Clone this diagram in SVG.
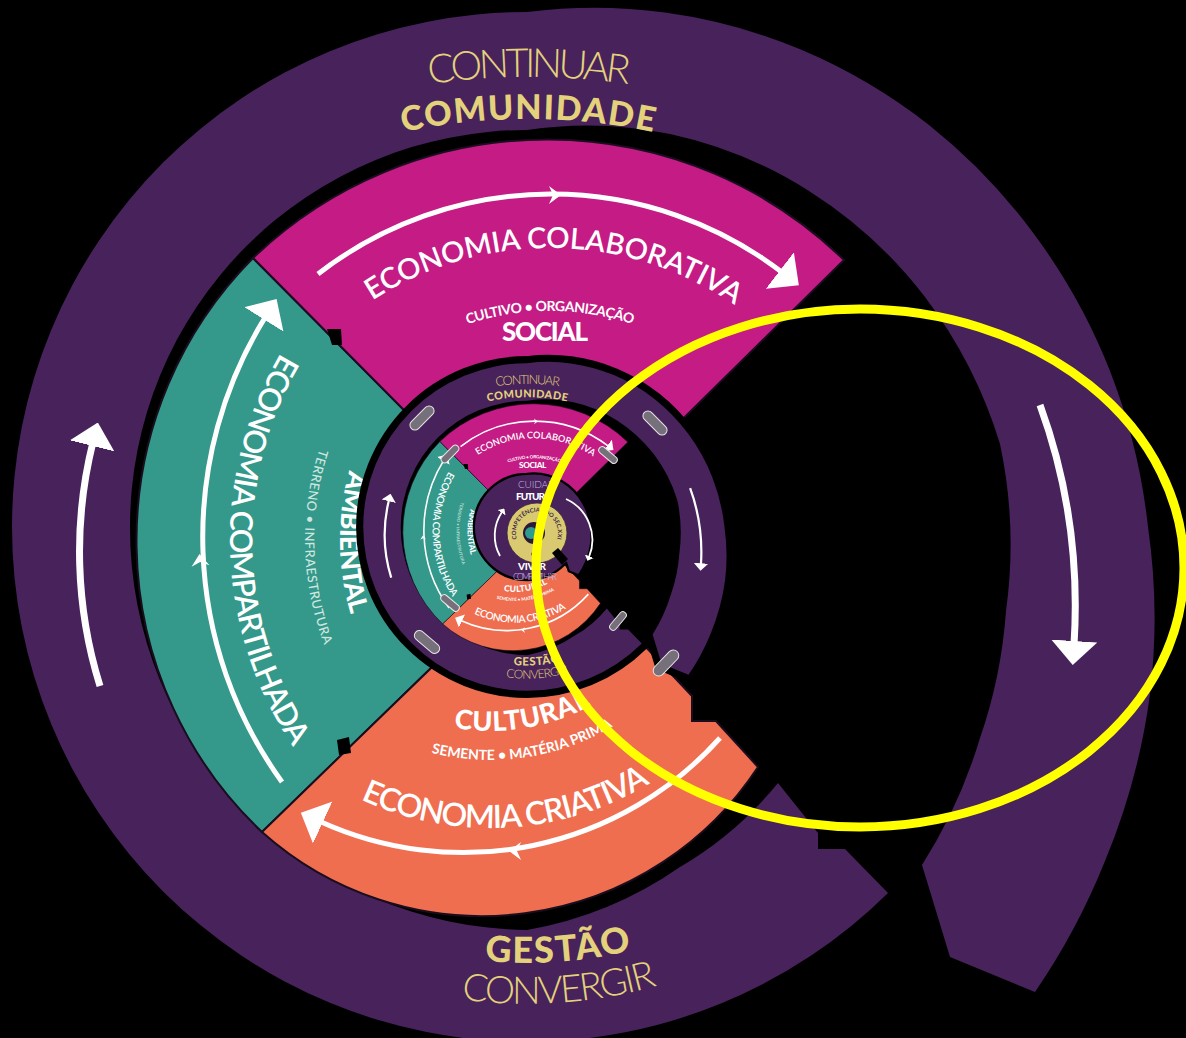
<svg xmlns="http://www.w3.org/2000/svg" width="1186" height="1038" viewBox="0 0 1186 1038">
<style>
 .ring{fill:#47225b}
 .gold{fill:#e3d17b;font-family:Lato,'Open Sans','DejaVu Sans',sans-serif}
 .w{fill:#fff;font-family:Lato,'Open Sans','DejaVu Sans',sans-serif}
 .lt{fill:#cfe6df;font-family:Lato,'Open Sans','DejaVu Sans',sans-serif}
 .lav{fill:#c9b9e4;font-family:Lato,'Open Sans','DejaVu Sans',sans-serif}
 .arr{fill:none;stroke:#fff;marker-end:url(#ah)}
 .pill{fill:#75707a;stroke:#e6e6e6;stroke-width:1}
</style>
<defs>
 <marker id="ah" viewBox="0 0 24 46" refX="4" refY="23" markerWidth="24" markerHeight="46" markerUnits="userSpaceOnUse" orient="auto"><path d="M0,0 L24,23 L0,46 Z" fill="#fff"/></marker>
 <marker id="ahs" viewBox="0 0 24 46" refX="4" refY="23" markerWidth="5" markerHeight="9.6" markerUnits="userSpaceOnUse" orient="auto"><path d="M0,0 L24,23 L0,46 Z" fill="#fff"/></marker>
 <path id="sil" d="M 527,12 A 524 524 0 0 1 665,12.5 A 541 541 0 0 1 802,50 A 559 559 0 0 1 929,125 A 577 577 0 0 1 1034,234 A 595 595 0 0 1 1110,371 A 612 612 0 0 1 1148,527 A 633 633 0 0 1 1150,694 A 656 656 0 0 1 1105,861 A 678 678 0 0 1 1035,992 L 950,957 L 922,865 L 888,893 A 515 515 0 0 1 527,1042 A 515 515 0 0 1 12,527 A 515 515 0 0 1 527,12 Z"/>
 <path id="p-cont" d="M -171,777 A 700 700 0 0 1 1229,777"/>
 <path id="p-comu" d="M -72,719 A 600 600 0 0 1 1128,719"/>
 <path id="p-gest" d="M 91,527 A 436 436 0 0 0 963,527"/>
 <path id="p-conv" d="M 50,527 A 477 477 0 0 0 1004,527"/>
 <path id="p-mt" d="M 223,575 A 327 327 0 0 1 877,575"/>
 <path id="p-ms" d="M 286,575 A 264 264 0 0 1 814,575"/>
 <path id="p-tt" d="M 600,170 A 370 370 0 0 0 600,910"/>
 <path id="p-ts" d="M 600,245 A 295 295 0 0 0 600,835"/>
 <path id="p-tb" d="M 600,280 A 260 260 0 0 0 600,800"/>
 <path id="p-ot" d="M 182,520 A 308 308 0 0 0 798,520"/>
 <path id="p-os" d="M 250,520 A 240 240 0 0 0 730,520"/>
 <path id="p-oc" d="M 279,520 A 211 211 0 0 0 701,520"/>
 <path id="p-yr" d="M 517.3,540.2 A 21 21 0 1 1 556.7,540.2"/>
</defs>
<rect width="1186" height="1038" fill="#000"/>

<g id="level">
 <path id="outer-ring" class="ring" d="M 527,12 A 524 524 0 0 1 665,12.5 A 541 541 0 0 1 802,50 A 559 559 0 0 1 929,125 A 577 577 0 0 1 1034,234 A 595 595 0 0 1 1110,371 A 612 612 0 0 1 1148,527 A 633 633 0 0 1 1150,694 A 656 656 0 0 1 1105,861 A 678 678 0 0 1 1035,992 L 950,957 L 922,865 A 510 510 0 0 0 980,738 A 493 493 0 0 0 1006,611 A 483 483 0 0 0 1000,444 A 470 470 0 0 0 925,297 A 449 449 0 0 0 809,191 A 428 428 0 0 0 670,134 A 407 407 0 0 0 527,130 A 397 397 0 0 0 130,527 A 402 402 0 0 0 527,930 A 385 385 0 0 0 680,867 A 365 365 0 0 0 778,783 L 818,833 L 818,849 L 845,849 L 888,893 A 515 515 0 0 1 527,1042 A 515 515 0 0 1 12,527 A 515 515 0 0 1 527,12 Z"/>
 <g id="sectors" stroke="#1a0d1e" stroke-width="2">
  <path id="sec-ambiental" fill="#34998b" d="M 527,534 L 253,258 A 401 401 0 0 0 262,832 L 527,575 Z"/>
  <path id="sec-social" fill="#c41b85" d="M 527,534 L 253,258 A 425 425 0 0 1 844,260 L 560,540 Z"/>
  <path id="sec-cultural" fill="#ef6e50" d="M 527,575 L 262,832 A 330 330 0 0 0 758,767 L 716,721 L 692,721 L 692,696 L 560,556 Z"/>
 </g>
 <g id="notches" fill="#000">
  <polygon points="327,329 341,329 342,345 332,345"/>
  <polygon points="337,740 349,737 351,753 339,755"/>
 </g>
 <g id="arrows" class="arr">
  <path stroke-width="7" d="M 100,686 A 452 452 0 0 1 93,442"/>
  <path stroke-width="7" d="M 1040,405 Q 1082,520 1074,645"/>
  <path stroke-width="5" d="M 318,274 A 380 380 0 0 1 783,273"/>
  <path stroke-width="5" d="M 282,782 A 418 418 0 0 1 266,316"/>
  <path stroke-width="5" d="M 720,738 A 345 345 0 0 1 319,821"/>
 </g>
 <g id="ticks" fill="#fff">
  <path d="M-6,-9 L6,0 L-6,9 L-2,0 Z" transform="translate(555,195)"/>
  <path d="M-6,-9 L6,0 L-6,9 L-2,0 Z" transform="translate(200,560) rotate(-95)"/>
  <path d="M-6,-9 L6,0 L-6,9 L-2,0 Z" transform="translate(515,851) rotate(180)"/>
 </g>
 <g id="ring-labels">
  <text class="gold" font-size="40" font-weight="300" text-anchor="middle"><textPath href="#p-cont" startOffset="50%" textLength="200" lengthAdjust="spacing">CONTINUAR</textPath></text>
  <text class="gold" font-size="34" font-weight="900" text-anchor="middle"><textPath href="#p-comu" startOffset="50%" textLength="252" lengthAdjust="spacing">COMUNIDADE</textPath></text>
  <text class="gold" font-size="36" font-weight="900" text-anchor="middle"><textPath href="#p-gest" startOffset="52.3%" textLength="148" lengthAdjust="spacing">GESTÃO</textPath></text>
  <text class="gold" font-size="38" font-weight="300" text-anchor="middle"><textPath href="#p-conv" startOffset="52.2%" textLength="198" lengthAdjust="spacing">CONVERGIR</textPath></text>
 </g>
 <g id="social-labels">
  <text class="w" font-size="29" font-weight="600" text-anchor="middle"><textPath href="#p-mt" startOffset="50.4%" textLength="384" lengthAdjust="spacing">ECONOMIA COLABORATIVA</textPath></text>
  <text class="w" font-size="14" font-weight="700" text-anchor="middle"><textPath href="#p-ms" startOffset="50%" textLength="168" lengthAdjust="spacing">CULTIVO • ORGANIZAÇÃO</textPath></text>
  <text class="w" x="545" y="341" font-size="26" font-weight="900" text-anchor="middle" textLength="86" lengthAdjust="spacing">SOCIAL</text>
 </g>
 <g id="ambiental-labels">
  <text class="w" font-size="31" font-weight="600" text-anchor="middle"><textPath href="#p-tt" startOffset="51%" textLength="416" lengthAdjust="spacing">ECONOMIA COMPARTILHADA</textPath></text>
  <text class="lt" font-size="13" font-weight="500" text-anchor="middle"><textPath href="#p-ts" startOffset="50.8%" textLength="200" lengthAdjust="spacing">TERRENO • INFRAESTRUTURA</textPath></text>
  <text class="w" font-size="26" font-weight="900" text-anchor="middle"><textPath href="#p-tb" startOffset="50.3%" textLength="146" lengthAdjust="spacing">AMBIENTAL</textPath></text>
 </g>
 <g id="cultural-labels">
  <text class="w" font-size="32" font-weight="600" text-anchor="middle"><textPath href="#p-ot" startOffset="51.8%" textLength="302" lengthAdjust="spacing">ECONOMIA CRIATIVA</textPath></text>
  <text class="w" font-size="14" font-weight="700" text-anchor="middle"><textPath href="#p-os" startOffset="54.6%" textLength="188" lengthAdjust="spacing">SEMENTE • MATÉRIA PRIMA</textPath></text>
  <text class="w" font-size="27" font-weight="900" text-anchor="middle"><textPath href="#p-oc" startOffset="55.2%" textLength="142" lengthAdjust="spacing">CULTURAL</textPath></text>
 </g>
</g>

<g id="level2">
 <use href="#sil" transform="matrix(0.318 0 0 0.318 359.414 359.414)" fill="#000" stroke="#000" stroke-width="45"/>
 <use href="#level" transform="matrix(0.318 0 0 0.318 359.414 359.414)"/>
 <g id="pills">
  <rect class="pill" x="-15" y="-5" width="30" height="10" rx="5" transform="translate(422,418) rotate(-45)"/>
  <rect class="pill" x="-15" y="-5" width="30" height="10" rx="5" transform="translate(655,423) rotate(45)"/>
  <rect class="pill" x="-15" y="-5" width="30" height="10" rx="5" transform="translate(427,642) rotate(40)"/>
  <rect class="pill" x="-16" y="-5.5" width="32" height="11" rx="5.5" transform="translate(666,663) rotate(-46)"/>
  <rect class="pill" x="-11" y="-3.5" width="22" height="7" rx="3.5" transform="translate(450,454) rotate(-45)"/>
  <rect class="pill" x="-11" y="-3.5" width="22" height="7" rx="3.5" transform="translate(608,455) rotate(40)"/>
  <rect class="pill" x="-11" y="-3.5" width="22" height="7" rx="3.5" transform="translate(450,603) rotate(40)"/>
  <rect class="pill" x="-11" y="-3.5" width="22" height="7" rx="3.5" transform="translate(618,621) rotate(-50)"/>
 </g>
</g>

<g id="level3">
 <use href="#sil" transform="matrix(0.101 0 0 0.101 473.773 473.773)" fill="#000" stroke="#000" stroke-width="45"/>
 <use href="#sil" transform="matrix(0.101 0 0 0.101 473.773 473.773)" fill="#47225b"/>
 <path d="M 500,556 A 42 42 0 0 1 502,512" fill="none" stroke="#fff" stroke-width="1.8" marker-end="url(#ahs)"/>
 <path d="M 566,499 A 45 45 0 0 1 589,557" fill="none" stroke="#fff" stroke-width="1.8" marker-end="url(#ahs)"/>
 <circle cx="537" cy="533" r="30" fill="#d9c970" stroke="#3a2245" stroke-width="0.8"/>
 <circle cx="534" cy="533" r="11" fill="#2c1836"/>
 <circle cx="531" cy="533" r="6" fill="#2d9c8f"/>
 <polygon points="552,553 558,548 568,559 562,565" fill="#000"/>
 <text font-family="Lato,'Open Sans',sans-serif" font-size="5.8" font-weight="700" fill="#3a1f4a" text-anchor="middle"><textPath href="#p-yr" startOffset="50%" textLength="78" lengthAdjust="spacing">COMPETÊNCIAS DO SEC.XXI</textPath></text>
 <text x="533" y="556" font-family="Lato,'Open Sans',sans-serif" font-size="6" font-weight="700" fill="#3a1f4a" text-anchor="middle">C</text>
 <text class="lav" x="536" y="488" font-size="10" font-weight="300" text-anchor="middle" textLength="36" lengthAdjust="spacing">CUIDAR</text>
 <text class="w" x="534" y="500" font-size="10" font-weight="900" text-anchor="middle" textLength="36" lengthAdjust="spacing">FUTURO</text>
 <text class="w" x="532" y="570" font-size="10" font-weight="900" text-anchor="middle" textLength="28" lengthAdjust="spacing">VIVER</text>
 <text class="lav" x="535" y="580" font-size="9" font-weight="300" text-anchor="middle" textLength="44" lengthAdjust="spacing">COMPARTILHAR</text>
</g>

<ellipse id="highlight" cx="860" cy="568" rx="324" ry="259" fill="none" stroke="#ffff00" stroke-width="9"/>
</svg>
